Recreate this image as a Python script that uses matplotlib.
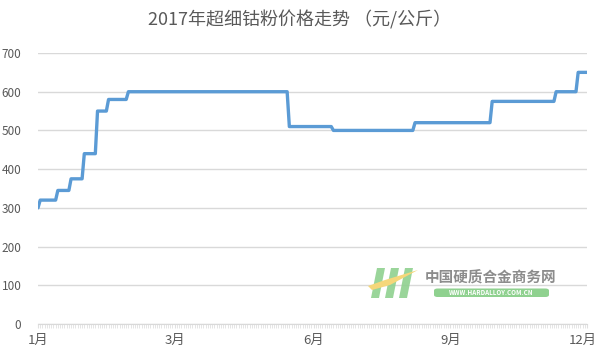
import numpy as np
import matplotlib
matplotlib.use("Agg")
import matplotlib.pyplot as plt
import matplotlib.transforms as mtransforms
from matplotlib.patches import Polygon, FancyBboxPatch

plt.rcParams['font.family'] = ['Noto Sans CJK SC', 'DejaVu Sans']

# Price levels (元/公斤) and how many consecutive data points each level lasts
levels = [300, 320, 345, 375, 440, 550, 580, 600, 510, 500, 520, 575, 600, 650]
durations = [1, 8, 6, 6, 6, 5, 9, 73, 20, 37, 35, 29, 10, 5]
tick_labels = ['1月', '3月', '6月', '9月', '12月']
tick_index = [0, 62, 125, 187, 249]
yticks = [0, 100, 200, 300, 400, 500, 600, 700]
title = '2017年超细钴粉价格走势 （元/公斤）'

values = np.repeat(levels, durations)
x = np.arange(len(values))

fig = plt.figure(figsize=(6, 3.58), dpi=100)
ax = fig.add_axes([38/600, 1-324/358, (587-38)/600, (324-53)/358])

ax.plot(x, values, color='#5B9BD5', lw=2.4, solid_capstyle='round', zorder=3)
ax.set_xlim(0, len(values)-1)
ax.set_ylim(0, 700)
ax.set_yticks(yticks)
ax.yaxis.grid(True, color='#D9D9D9', lw=1)
ax.set_axisbelow(True)
for s in ['top', 'right', 'left']:
    ax.spines[s].set_visible(False)
ax.spines['bottom'].set_color('#D9D9D9')
ax.tick_params(axis='y', length=0, labelsize=8.5, labelcolor='#595959', pad=12)
ax.set_xticks(tick_index)
ax.set_xticklabels(tick_labels)
ax.set_xticks(x, minor=True)
ax.tick_params(axis='x', which='major', length=3, color='#E0E0E0', labelsize=9.5, labelcolor='#595959', pad=4)
ax.tick_params(axis='x', which='minor', length=3, color='#E0E0E0', width=0.6)
last = ax.get_xticklabels()[-1]
last.set_transform(last.get_transform() + mtransforms.ScaledTranslation(-4/100, 0, fig.dpi_scale_trans))

fig.text(0.5, 1-20/358, title, ha='center', va='center', fontsize=13, color='#595959')

# watermark
def fx(px):
    return px/600
def fy(py):
    return 1-py/358
green = '#8FD18F'
for x0 in [371, 385, 399]:
    poly = Polygon([(fx(x0+6), fy(268)), (fx(x0+14), fy(268)), (fx(x0+8), fy(298)), (fx(x0), fy(298))],
                   closed=True, transform=fig.transFigure, color=green, alpha=0.9, lw=0)
    fig.patches.append(poly)
swoosh = Polygon([(fx(368), fy(286)), (fx(385), fy(280)), (fx(418), fy(270)), (fx(390), fy(285)), (fx(372), fy(290))],
                 closed=True, transform=fig.transFigure, color='#F5D77A', lw=0)
fig.patches.append(swoosh)
fig.text(fx(491), fy(278), '中国硬质合金商务网', ha='center', va='center', fontsize=10.5,
         color='#8C8C8C', fontweight='bold')
box = FancyBboxPatch((fx(434), fy(297)), fx(115), 8.5/358, boxstyle='round,pad=0,rounding_size=0.006',
                     transform=fig.transFigure, color=green, lw=0)
fig.patches.append(box)
fig.text(fx(491), fy(292.5), 'WWW.HARDALLOY.COM.CN', ha='center', va='center', fontsize=4.5,
         color='white', fontweight='bold')

fig.savefig('out.png', dpi=100, facecolor='white')
